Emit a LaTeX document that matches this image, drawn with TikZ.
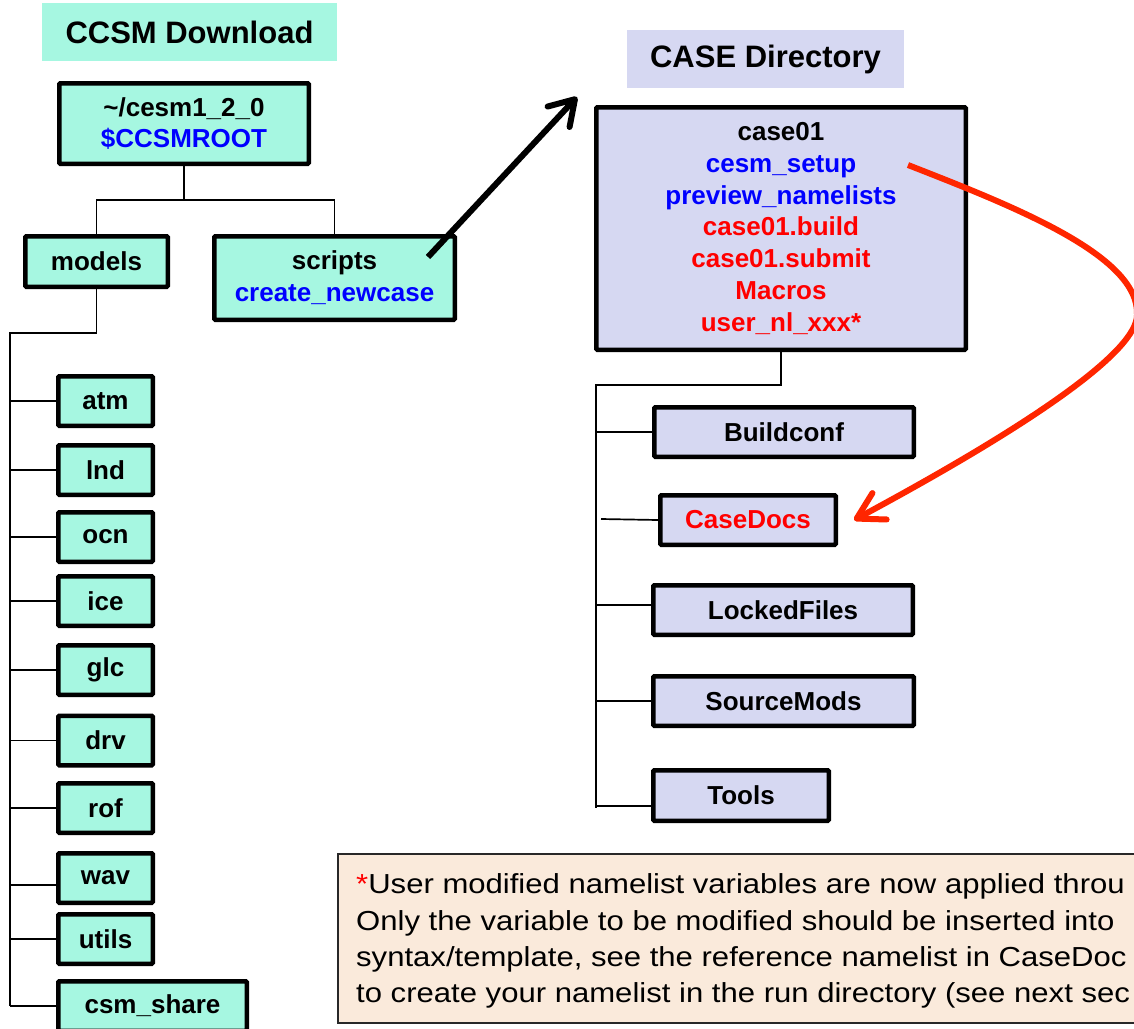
\documentclass[tikz,border=0pt]{standalone}
\usepackage{fontspec}
\setmainfont{Liberation Sans}
\newfontfamily\notefont[FakeStretch=1.13]{Liberation Sans}
\usetikzlibrary{arrows.meta}
\definecolor{mint}{RGB}{166,247,225}
\definecolor{lav}{RGB}{214,216,242}
\definecolor{peach}{RGB}{250,234,219}
\definecolor{notegray}{RGB}{40,40,40}
\definecolor{txtblue}{RGB}{0,0,255}
\definecolor{txtred}{RGB}{255,0,0}
\definecolor{arrred}{RGB}{255,38,0}
\begin{document}
\begin{tikzpicture}[x=1pt,y=-1pt,
  dirbox/.style={draw=black, line width=4.5pt, rounded corners=1pt, inner sep=0pt,
    align=center, font=\fontsize{26}{31.8}\selectfont\bfseries},
  mintbox/.style={dirbox, fill=mint},
  lavbox/.style={dirbox, fill=lav},
  childbox/.style={mintbox, minimum width=94.5pt, minimum height=49.5pt},
  casechild/.style={lavbox, minimum height=49.5pt},
  heading/.style={inner sep=0pt, font=\fontsize{31}{36}\selectfont\bfseries},
  treeline/.style={line width=1.7pt},
  notetext/.style={inner sep=0pt, anchor=base west, font=\notefont\fontsize{27.5}{36}\selectfont},
  blackarrow/.style={line width=6pt, -{Straight Barb[length=24pt, width=30pt, round]}},
  redarrow/.style={draw=arrred, line width=6pt, -{Straight Barb[length=26pt, width=30pt, round]}}
]
\useasboundingbox (0,0) rectangle (1134,1028);

% headings
\node[heading, fill=mint, minimum width=295pt, minimum height=58pt] (hccsm) at (189.5,32) {CCSM Download};
\node[heading, fill=lav, minimum width=277pt, minimum height=58pt] (hcase) at (765.5,59) {CASE Directory};

% left tree
\node[mintbox, minimum width=249.5pt, minimum height=80.5pt] (root) at (184,123.5)
  {\textasciitilde/cesm1\_2\_0\\\textcolor{txtblue}{\$CCSMROOT}};
\node[mintbox, minimum width=142.5pt, minimum height=50.5pt] (models) at (96.5,261.5) {models};
\node[mintbox, minimum width=240.5pt, minimum height=83.5pt] (scripts) at (334.5,278)
  {scripts\\\textcolor{txtblue}{create\_newcase}};

\node[childbox] (atm) at (105.5,401) {atm};
\node[childbox] (lnd) at (105.5,470) {lnd};
\node[childbox] (ocn) at (105.5,537) {ocn};
\node[childbox] (ice) at (105.5,601) {ice};
\node[childbox] (glc) at (105.5,670) {glc};
\node[childbox] (drv) at (105.5,740.5) {drv};
\node[childbox] (rof) at (105.5,808) {rof};
\node[childbox] (wav) at (105.5,878) {wav};
\node[childbox] (utils) at (105.5,939) {utils};
\node[mintbox, minimum width=188.5pt, minimum height=49.5pt] (csm) at (152.5,1006) {csm\_share};

\coordinate (j1) at (184,200);
\coordinate (trunkA) at (10,333);
\draw[treeline] (root.south) -- (j1);
\draw[treeline] (models.north) -- (models.north |- j1) -- (scripts.north |- j1) -- (scripts.north);
\draw[treeline] (models.south) -- (models.south |- trunkA) -- (trunkA) -- (trunkA |- csm.west);
\foreach \n in {atm,lnd,ocn,ice,glc,drv,rof,utils,csm}
  \draw[treeline] (\n.west) -- (trunkA |- \n.west);
\coordinate (wavw) at ([yshift=-7pt]wav.west);
\draw[treeline] (wavw) -- (trunkA |- wavw);

% case tree
\node[lavbox, minimum width=369.5pt, minimum height=242.5pt] (case) at (781,228.5)
  {case01\\
   \textcolor{txtblue}{cesm\_setup}\\
   \textcolor{txtblue}{preview\_namelists}\\
   \textcolor{txtred}{case01.build}\\
   \textcolor{txtred}{case01.submit}\\
   \textcolor{txtred}{Macros}\\
   \textcolor{txtred}{user\_nl\_xxx*}};
\node[casechild, minimum width=259.5pt] (buildconf) at (784,432) {Buildconf};
\node[casechild, minimum width=175.5pt] (casedocs) at (748,520) {\textcolor{txtred}{CaseDocs}};
\node[casechild, minimum width=259.5pt] (locked) at (783,610) {LockedFiles};
\node[casechild, minimum width=260.5pt] (srcmods) at (783.5,701) {SourceMods};
\node[casechild, minimum width=175.5pt, minimum height=50.5pt] (tools) at (741,795.5) {Tools};

\coordinate (trunkB) at (596,385);
\coordinate (lockw) at ([yshift=5pt]locked.west);
\coordinate (toolw) at ([yshift=-10.5pt]tools.west);
\draw[treeline] (case.south) -- (case.south |- trunkB) -- (trunkB) -- (596,808);
\draw[treeline] (buildconf.west) -- (trunkB |- buildconf.west);
\draw[treeline] (casedocs.west) -- (601,519);
\draw[treeline] (lockw) -- (trunkB |- lockw);
\draw[treeline] (srcmods.west) -- (trunkB |- srcmods.west);
\draw[treeline] (toolw) -- (trunkB |- toolw);

% arrows
\coordinate (scriptsout) at (428,257);
\coordinate (casein) at (577,97);
\draw[blackarrow] (scriptsout) -- (casein);

\coordinate (setupend) at (908,165);
\draw[redarrow] (setupend) .. controls (1010,205) and (1140,255) .. (1137,315)
  .. controls (1137,350) and (1040,420) .. ([xshift=16pt]casedocs.east);

% note
\node[draw=notegray, fill=peach, line width=1.5pt, inner sep=0pt, anchor=north west,
      minimum width=830pt, minimum height=169pt] (note) at (337,853) {};
\node[notetext] (n1) at (356,893) {\textcolor{txtred}{*}User modified namelist variables are now applied throu};
\node[notetext] (n2) at (356,930) {Only the variable to be modified should be inserted into};
\node[notetext] (n3) at (356,966) {syntax/template, see the reference namelist in CaseDoc};
\node[notetext] (n4) at (356,1002) {to create your namelist in the run directory (see next sec};
\end{tikzpicture}
\end{document}
